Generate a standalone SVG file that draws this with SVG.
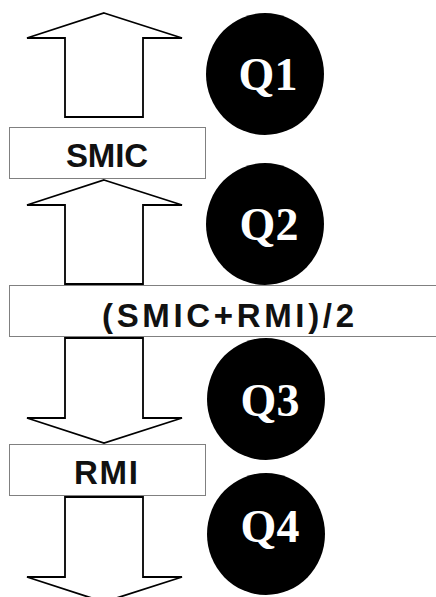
<svg xmlns="http://www.w3.org/2000/svg" width="436" height="597" viewBox="0 0 436 597">
<style>
.arrow{fill:#fff;stroke:#000;stroke-width:1.8;stroke-linejoin:miter}
.box{fill:#fff;stroke:#808080;stroke-width:1}
.lbl{font-family:"Liberation Sans",Arial,sans-serif;font-weight:bold;font-size:33px;fill:#111}
.disc{fill:#000}
.q{font-family:"Liberation Serif","Times New Roman",serif;font-weight:bold;font-size:46px;fill:#fff;text-anchor:middle}
</style>
<rect width="436" height="597" fill="#fff"/>
<g id="connectors">
<polygon class="arrow" points="104,13 182,38 143,38 143,117 65,117 65,38 27,38"/>
<polygon class="arrow" points="104,180 182,205 143,205 143,284 65,284 65,205 27,205"/>
<polygon class="arrow" points="65,338 143,338 143,418 182,418 104,443 27,418 65,418"/>
<polygon class="arrow" points="65,497 143,497 143,577 182,577 104,602 27,577 65,577"/>
</g>
<g id="smic">
<rect class="box" x="9.5" y="127.5" width="196" height="51"/>
<text class="lbl" x="66" y="167" textLength="82" lengthAdjust="spacing">SMIC</text>
</g>
<g id="mid">
<rect class="box" x="9.5" y="285.5" width="440" height="51"/>
<text class="lbl" x="102" y="327" textLength="252" lengthAdjust="spacing">(SMIC+RMI)/2</text>
</g>
<g id="rmi">
<rect class="box" x="9.5" y="444.5" width="196" height="51"/>
<text class="lbl" x="74" y="484" textLength="64" lengthAdjust="spacing">RMI</text>
</g>
<g id="q1">
<ellipse class="disc" cx="265" cy="74" rx="59" ry="61"/>
<text class="q" x="268" y="90">Q1</text>
</g>
<g id="q2">
<ellipse class="disc" cx="265" cy="224" rx="59" ry="61"/>
<text class="q" x="269" y="240">Q2</text>
</g>
<g id="q3">
<ellipse class="disc" cx="266" cy="399" rx="59" ry="61"/>
<text class="q" x="270" y="416">Q3</text>
</g>
<g id="q4">
<ellipse class="disc" cx="266" cy="534" rx="59" ry="61"/>
<text class="q" x="270" y="542">Q4</text>
</g>
</svg>
